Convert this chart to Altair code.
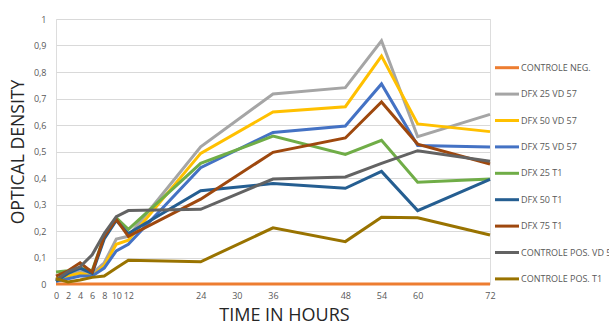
import altair as alt
import pandas as pd

hours = [0, 2, 4, 6, 8, 10, 12, 24, 36, 48, 54, 60, 72]
tick_hours = [0, 2, 4, 6, 8, 10, 12, 24, 30, 36, 48, 54, 60, 72]

series_names = [
    "CONTROLE NEG.", "DFX 25 VD 57", "DFX 50 VD 57", "DFX 75 VD 57",
    "DFX 25 T1", "DFX 50 T1", "DFX 75 T1", "CONTROLE POS. VD 57", "CONTROLE POS. T1",
]
series_colors = ["#ED7D31", "#A5A5A5", "#FFC000", "#4472C4", "#70AD47",
                 "#255E91", "#9E480E", "#636363", "#997300"]

controle_neg = [0.0] * 13
dfx25_vd57 = [0.02, 0.03, 0.05, 0.04, 0.08, 0.17, 0.18, 0.518, 0.717, 0.741, 0.918, 0.556, 0.640]
dfx50_vd57 = [0.02, 0.03, 0.04, 0.03, 0.07, 0.15, 0.165, 0.493, 0.649, 0.669, 0.860, 0.604, 0.575]
dfx75_vd57 = [0.01, 0.02, 0.03, 0.03, 0.06, 0.125, 0.15, 0.439, 0.572, 0.596, 0.755, 0.523, 0.517]
dfx25_t1 = [0.045, 0.05, 0.06, 0.05, 0.18, 0.25, 0.206, 0.455, 0.558, 0.489, 0.542, 0.384, 0.396]
dfx50_t1 = [0.01, 0.04, 0.06, 0.04, 0.17, 0.24, 0.19, 0.352, 0.379, 0.361, 0.425, 0.277, 0.395]
dfx75_t1 = [0.03, 0.05, 0.08, 0.045, 0.18, 0.244, 0.18, 0.320, 0.497, 0.551, 0.687, 0.528, 0.453]
controle_pos_vd57 = [0.015, 0.047, 0.065, 0.11, 0.19, 0.254, 0.277, 0.282, 0.396, 0.404, 0.455, 0.503, 0.463]
controle_pos_t1 = [0.02, 0.008, 0.015, 0.025, 0.03, 0.06, 0.09, 0.084, 0.212, 0.160, 0.252, 0.250, 0.185]

all_values = [controle_neg, dfx25_vd57, dfx50_vd57, dfx75_vd57, dfx25_t1,
              dfx50_t1, dfx75_t1, controle_pos_vd57, controle_pos_t1]

rows = []
for order, (name, vals) in enumerate(zip(series_names, all_values)):
    for h, v in zip(hours, vals):
        rows.append({"series": name, "hour": h, "od": v, "ord": order})
df = pd.DataFrame(rows)
legend_df = pd.DataFrame({"series": series_names})

FONT = "Open Sans"
GREY = "#595959"

color_scale = alt.Scale(domain=series_names, range=series_colors)

lines = alt.Chart(df).mark_line(strokeWidth=3, clip=False).encode(
    x=alt.X("hour:Q",
            scale=alt.Scale(domain=[0, 72], nice=False, zero=False),
            axis=alt.Axis(values=tick_hours, title="TIME IN HOURS", grid=False,
                          domain=False, ticks=False, labelOverlap=False,
                          labelFlush=False, labelPadding=7, labelFontSize=9,
                          labelColor=GREY, labelFont=FONT, titleFont=FONT,
                          titleFontSize=18, titleFontWeight="normal",
                          titleColor="#262626", titleX=228, titleY=36,
                          titleBaseline="alphabetic")),
    y=alt.Y("od:Q",
            scale=alt.Scale(domain=[0, 1], nice=False),
            axis=alt.Axis(values=[i / 10 for i in range(11)], format=".1~f",
                          labelExpr="replace(datum.label, '.', ',')",
                          title="OPTICAL DENSITY", grid=True, gridColor="#D9D9D9",
                          gridWidth=1, domain=False, ticks=False, labelPadding=10,
                          labelFontSize=9, labelColor=GREY, labelFont=FONT,
                          titleFont=FONT, titleFontSize=17.6, titleFontWeight="normal",
                          titleColor="#262626", titlePadding=6)),
    color=alt.Color("series:N", scale=color_scale, legend=None),
    detail="ord:O",
    order="ord:O",
)

legend_y = alt.Y("series:N",
                 scale=alt.Scale(type="point", domain=series_names,
                                 range=[48.7, 259.9], padding=0),
                 axis=None)

legend_symbols = alt.Chart(legend_df).mark_rule(strokeWidth=3).encode(
    x=alt.value(439), x2=alt.value(463),
    y=legend_y,
    color=alt.Color("series:N", scale=color_scale, legend=None),
)

legend_labels = alt.Chart(legend_df).mark_text(
    align="left", baseline="middle", font=FONT, fontSize=9, color=GREY
).encode(
    x=alt.value(465),
    y=legend_y,
    text="series:N",
)

chart = alt.layer(lines, legend_symbols, legend_labels).resolve_scale(
    y="independent"
).properties(
    width=434,
    height=265,
    autosize=alt.AutoSizeParams(type="none"),
    padding={"left": 56, "top": 19, "right": 119, "bottom": 41},
).configure_view(stroke=None).configure(background="white")

chart.save("out.html", embed_options={"renderer": "svg", "actions": False})
